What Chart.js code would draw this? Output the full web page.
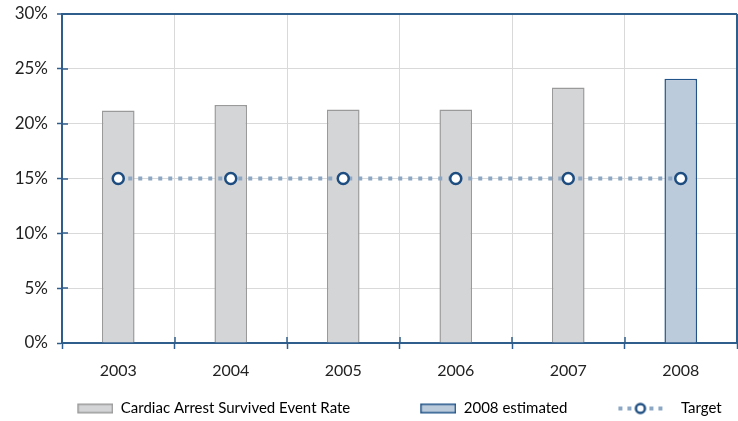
<!DOCTYPE html>
<html>
<head>
<meta charset="utf-8">
<script src="https://cdn.jsdelivr.net/npm/chart.js@4.4.1/dist/chart.umd.min.js"></script>
<style>
  html, body { margin: 0; padding: 0; background: #fff; }
  #wrap { width: 738px; height: 421px; }
</style>
</head>
<body>
<div id="wrap"><canvas id="myChart"></canvas></div>
<script>
const years = ['2003', '2004', '2005', '2006', '2007', '2008']
const survivedRate = [21.2, 21.7, 21.3, 21.3, 23.3, null]
const estimated2008 = [null, null, null, null, null, 24.1]
const target = [15, 15, 15, 15, 15, 15]
const yTicks = [0, 5, 10, 15, 20, 25, 30]

const axisBlue = '#2f5d8c'
const gridGray = '#d9d9d9'
const slot = 98

// legend icons
function rectIcon(fill, stroke) {
  const c = document.createElement('canvas')
  c.width = slot; c.height = 12
  const x = c.getContext('2d')
  x.fillStyle = fill
  x.fillRect(slot - 36, 1, 36, 10)
  x.strokeStyle = stroke
  x.lineWidth = 1.5
  x.strokeRect(slot - 35.25, 1.75, 34.5, 8.5)
  return c
}
function targetIcon() {
  const c = document.createElement('canvas')
  c.width = slot; c.height = 14
  const x = c.getContext('2d')
  const end = slot - 12
  x.fillStyle = '#8ca7c4'
  ;[end - 43, end - 34, end - 12, end - 3].forEach(p => x.fillRect(p, 5, 4, 4))
  x.beginPath()
  x.arc(end - 21, 7, 4.5, 0, Math.PI * 2)
  x.fillStyle = '#fff'
  x.fill()
  x.lineWidth = 2.5
  x.strokeStyle = '#1d4d80'
  x.stroke()
  return c
}

const frame = {
  id: 'frame',
  afterDraw(chart) {
    const { ctx, chartArea: a, scales } = chart
    ctx.save()
    ctx.strokeStyle = axisBlue
    ctx.lineWidth = 2
    ctx.beginPath()
    ctx.moveTo(a.right, a.top)
    ctx.lineTo(a.right, a.bottom)
    ctx.stroke()
    ctx.lineWidth = 1.5
    ctx.beginPath()
    scales.y.ticks.forEach(t => {
      const py = Math.round(scales.y.getPixelForValue(t.value))
      ctx.moveTo(a.left, py); ctx.lineTo(a.left + 6, py)
    })
    for (let i = 1; i < years.length; i++) {
      const px = Math.round((scales.x.getPixelForValue(i - 1) + scales.x.getPixelForValue(i)) / 2)
      ctx.moveTo(px, a.bottom); ctx.lineTo(px, a.bottom - 6)
    }
    ctx.stroke()
    ctx.restore()
  }
}

const ctx = document.querySelector('#myChart')
new Chart(ctx, {
  type: 'bar',
  data: {
    labels: years,
    datasets: [
      {
        type: 'line',
        label: 'Target',
        data: target,
        borderColor: '#8ca7c4',
        borderWidth: 4,
        borderDash: [4, 6],
        pointRadius: 5.5,
        pointBorderWidth: 2.5,
        pointBorderColor: '#1d4d80',
        pointBackgroundColor: '#fff',
        order: 0
      },
      {
        label: 'Cardiac Arrest Survived Event Rate',
        data: survivedRate,
        backgroundColor: '#d4d5d7',
        borderColor: '#9a9a9a',
        borderWidth: 1.5,
        grouped: false,
        order: 1
      },
      {
        label: '2008 estimated',
        data: estimated2008,
        backgroundColor: '#bccbdb',
        borderColor: '#22548a',
        borderWidth: 1.5,
        grouped: false,
        order: 1
      }
    ]
  },
  options: {
    responsive: true,
    maintainAspectRatio: false,
    animation: false,
    layout: { autoPadding: false, padding: { top: 14, right: 1, left: 0, bottom: -5 } },
    datasets: { bar: { categoryPercentage: 1, barPercentage: 0.29 } },
    scales: {
      x: {
        grid: { color: gridGray, offset: true, tickLength: 6, tickColor: axisBlue, tickWidth: 1.5 },
        border: { color: axisBlue, width: 2 },
        ticks: { color: '#222', font: { family: 'Lato', size: 16 }, padding: 12 },
        afterFit: s => { s.height = 50; s.paddingLeft = 0; s.paddingRight = 0 }
      },
      y: {
        min: 0,
        max: 30,
        afterBuildTicks: s => { s.ticks = yTicks.map(v => ({ value: v })) },
        grid: {
          color: c => c.tick && c.tick.value === 30 ? axisBlue : gridGray,
          lineWidth: c => c.tick && c.tick.value === 30 ? 2 : 1,
          tickLength: 5,
          tickColor: axisBlue,
          tickWidth: 1.5
        },
        border: { color: axisBlue, width: 2 },
        ticks: { color: '#222', font: { family: 'Lato', size: 17 }, padding: 9, callback: v => v + '%' },
        afterFit: s => { s.width = 62; s.paddingTop = 0; s.paddingBottom = 0 }
      }
    },
    plugins: {
      tooltip: { enabled: false },
      legend: {
        position: 'bottom',
        labels: {
          usePointStyle: true,
          pointStyleWidth: slot,
          padding: 8,
          color: '#222',
          font: { family: 'Lato', size: 15 },
          generateLabels: chart => [
            { text: 'Cardiac Arrest Survived Event Rate', pointStyle: rectIcon('#d4d5d7', '#9a9a9a'), datasetIndex: 1, lineWidth: 0, strokeStyle: 'transparent', fillStyle: 'transparent' },
            { text: '2008 estimated', pointStyle: rectIcon('#bccbdb', '#22548a'), datasetIndex: 2, lineWidth: 0, strokeStyle: 'transparent', fillStyle: 'transparent' },
            { text: 'Target', pointStyle: targetIcon(), datasetIndex: 0, lineWidth: 0, strokeStyle: 'transparent', fillStyle: 'transparent' }
          ]
        }
      }
    }
  },
  plugins: [frame]
})
</script>
</body>
</html>
